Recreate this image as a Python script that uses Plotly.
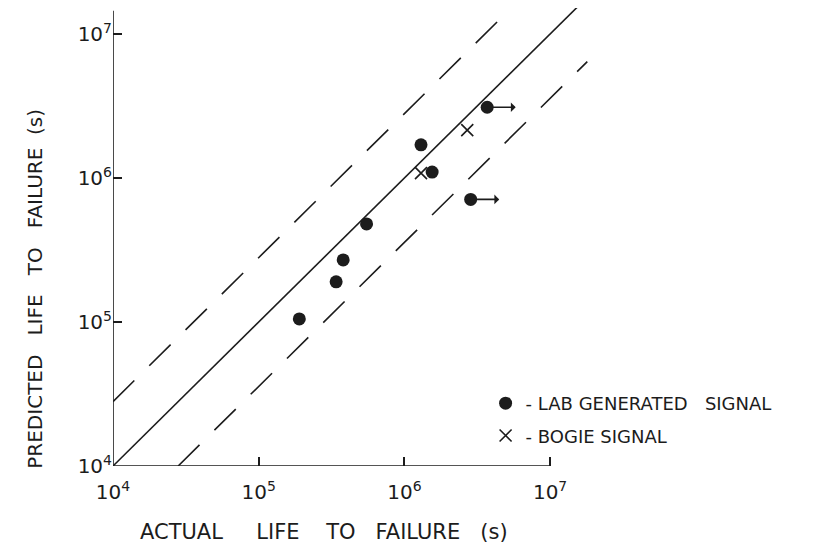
import numpy as np
import plotly.graph_objects as go

# ---- data (seconds) ----
lab_actual = [1.9e5, 3.4e5, 3.8e5, 5.5e5, 1.3e6, 1.55e6, 2.85e6, 3.7e6]
lab_predicted = [1.05e5, 1.9e5, 2.7e5, 4.8e5, 1.7e6, 1.1e6, 7.1e5, 3.1e6]
lab_runout = [False, False, False, False, False, False, True, True]

bogie_actual = [1.3e6, 2.7e6]
bogie_predicted = [1.08e6, 2.15e6]

band_factor = 2.8           # scatter band (dashed lines)
solid_range = [1e4, 1.55e7]
upper_range = [1e4, 5.4e6]
lower_range = [2.8e4, 1.8e7]
axis_min = 1e4
x_axis_max = 1e7
y_axis_max = 1.45e7

tick_vals = [1e4, 1e5, 1e6, 1e7]
tick_text = ["10<sup>4</sup>", "10<sup>5</sup>", "10<sup>6</sup>", "10<sup>7</sup>"]

NB = "\u00a0"
x_title = "ACTUAL" + NB * 4 + " LIFE" + NB * 3 + " TO" + NB * 2 + " FAILURE" + NB * 2 + " (s)"
y_title = "PREDICTED" + NB * 2 + " LIFE" + NB * 2 + " TO" + NB * 2 + " FAILURE" + NB + " (s)"
lab_name = "- LAB GENERATED" + NB * 2 + " SIGNAL"
bogie_name = "- BOGIE SIGNAL"

FONT = "DejaVu Sans"
INK = "#1c1c1c"

fig = go.Figure()

# axis lines
fig.add_trace(go.Scatter(x=[axis_min, x_axis_max], y=[axis_min, axis_min], mode="lines",
                         line=dict(color=INK, width=1.6), showlegend=False, hoverinfo="skip"))
fig.add_trace(go.Scatter(x=[axis_min, axis_min], y=[axis_min, y_axis_max], mode="lines",
                         line=dict(color=INK, width=1.6), showlegend=False, hoverinfo="skip"))

# y = x
fig.add_trace(go.Scatter(x=solid_range, y=solid_range, mode="lines",
                         line=dict(color=INK, width=1.6), showlegend=False, hoverinfo="skip"))
# band lines
ux = np.array(upper_range)
fig.add_trace(go.Scatter(x=ux, y=ux * band_factor, mode="lines",
                         line=dict(color=INK, width=1.6, dash="30px,21px"),
                         showlegend=False, hoverinfo="skip"))
lx = np.array(lower_range)
fig.add_trace(go.Scatter(x=lx, y=lx / band_factor, mode="lines",
                         line=dict(color=INK, width=1.6, dash="30px,21px"),
                         showlegend=False, hoverinfo="skip"))

# points
fig.add_trace(go.Scatter(x=lab_actual, y=lab_predicted, mode="markers", name=lab_name,
                         legendgroup="a",
                         marker=dict(symbol="circle", size=13, color=INK)))
fig.add_trace(go.Scatter(x=bogie_actual, y=bogie_predicted, mode="markers", name=bogie_name,
                         legendgroup="b",
                         marker=dict(symbol="x-thin-open", size=12,
                                     line=dict(color=INK, width=1.6), color=INK)))

# run-out arrows
for xa, ya, ro in zip(lab_actual, lab_predicted, lab_runout):
    if ro:
        fig.add_annotation(x=np.log10(xa), y=np.log10(ya), xref="x", yref="y",
                           ax=30, ay=0, text="", showarrow=True, arrowside="start",
                           arrowhead=2, arrowsize=1.8, arrowwidth=1.6, arrowcolor=INK)

# axis titles
fig.add_annotation(x=0.300, y=-0.144, xref="paper", yref="paper", text=x_title,
                   showarrow=False, font=dict(family=FONT, size=21, color=INK),
                   xanchor="center", yanchor="middle")
fig.add_annotation(x=-0.111, y=0.387, xref="paper", yref="paper", text=y_title,
                   showarrow=False, textangle=-90, font=dict(family=FONT, size=20, color=INK),
                   xanchor="center", yanchor="middle")

axis_common = dict(type="log", showgrid=False, zeroline=False, showline=False,
                   automargin=False,
                   ticks="inside", ticklen=9, tickwidth=1.6, tickcolor=INK,
                   tickvals=tick_vals, ticktext=tick_text,
                   tickfont=dict(family=FONT, size=20, color=INK))

# the page adds an 8px body margin, so the figure is 808x543 and offset accordingly
fig.update_layout(
    width=808, height=543,
    margin=dict(l=105, r=0, t=0, b=85, autoexpand=False),
    paper_bgcolor="white", plot_bgcolor="white",
    xaxis=dict(range=[4, 4 + 703 / 145.7], ticklabelstandoff=12, **axis_common),
    yaxis=dict(range=[4, 4 + 458 / 144.0], ticklabelstandoff=0, **axis_common),
    showlegend=True,
    legend=dict(x=0.53, y=0.177, xanchor="left", yanchor="top",
                font=dict(family=FONT, size=18, color=INK),
                bgcolor="rgba(0,0,0,0)", tracegroupgap=6, traceorder="grouped"),
)

fig.write_html("out.html")
